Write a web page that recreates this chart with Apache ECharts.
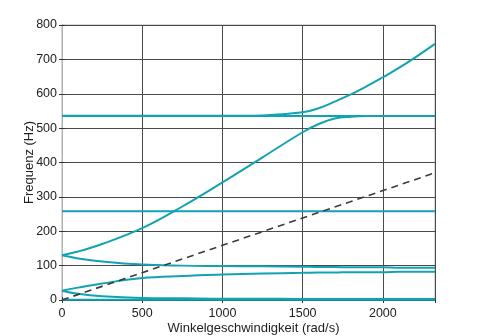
<!DOCTYPE html>
<html>
<head>
<meta charset="utf-8">
<script src="https://cdn.jsdelivr.net/npm/echarts@6/dist/echarts.min.js"></script>
<style>
  html, body { margin: 0; padding: 0; background: #fff; }
  #chart { width: 480px; height: 336px; }
</style>
</head>
<body>
<div id="chart"></div>
<script>
// Campbell diagram: natural frequencies against angular speed
const omega = [0, 100, 250, 500, 750, 1000, 1250, 1500, 1600, 1700, 1800, 1900, 2000, 2100, 2200, 2325];

const modeUpper   = [536, 536, 536, 536, 536, 536, 537, 546, 558, 577, 598, 622, 648, 675, 705, 745];
const modeFlat535 = [535, 535, 535, 535, 535, 535, 535, 535, 535, 535, 535, 535, 535, 535, 535, 535];
const modeRising  = [130, 141, 163, 209, 272, 342, 415, 488, 512, 528, 533, 535, 535, 535, 535, 535];
const modeFlat258 = [258, 258, 258, 258, 258, 258, 258, 258, 258, 258, 258, 258, 258, 258, 258, 258];
const modeFalling = [130, 121, 112, 103, 100, 99, 98, 97, 96, 96, 95, 95, 95, 94, 94, 94];
const modeLowRise = [27, 36, 48, 64, 70, 74, 77, 79, 80, 80, 81, 81, 81, 82, 82, 82];
const modeLowFall = [27, 18, 11, 6, 5, 4, 4, 3, 3, 3, 3, 3, 3, 3, 3, 3];
const modeZero    = [1, 1, 1, 1, 1, 1, 1, 1, 1, 1, 1, 1, 1, 1, 1, 1];

// excitation line (once per revolution)
const excOmega = [0, 2325];
const excFreq  = [0, 370];

const xTicks = [0, 500, 1000, 1500, 2000];
const yTicks = [0, 100, 200, 300, 400, 500, 600, 700, 800];

const teal = '#12a3b2';
const font = 'Liberation Sans, Arial, Helvetica, sans-serif';

function pairs(xs, ys) { return xs.map((x, i) => [x, ys[i]]); }

const modes = [modeUpper, modeFlat535, modeRising, modeFlat258, modeFalling, modeLowRise, modeLowFall, modeZero];

const series = modes.map(m => ({
  type: 'line',
  data: pairs(omega, m),
  smooth: 0.4,
  showSymbol: false,
  lineStyle: { color: teal, width: 2 },
  z: 3
}));

series.push({
  type: 'line',
  data: pairs(excOmega, excFreq),
  showSymbol: false,
  lineStyle: { color: '#3c3c3c', width: 1.6, type: [7, 5] },
  z: 4
});

const chart = echarts.init(document.getElementById('chart'), null, { renderer: 'canvas' });
chart.setOption({
  animation: false,
  backgroundColor: '#fff',
  grid: {
    left: 62, right: 45, top: 25, bottom: 36,
    outerBoundsMode: 'none', containLabel: false,
    show: true, borderColor: '#b0b0b0', borderWidth: 1
  },
  xAxis: [{
    type: 'value',
    min: 0, max: 2325, interval: 500,
    name: 'Winkelgeschwindigkeit (rad/s)',
    nameLocation: 'middle',
    nameGap: 21.5,
    nameMoveOverlap: false,
    nameTextStyle: { fontFamily: font, fontSize: 13, color: '#222', padding: [0, 0, 0, 10], verticalAlign: 'top' },
    axisLine: { show: true, lineStyle: { color: '#333', width: 1 } },
    axisTick: { show: true, inside: true, length: 3, lineStyle: { color: '#333' } },
    axisLabel: {
      fontFamily: font, fontSize: 12.5, color: '#222', margin: 7,
      showMaxLabel: false,
      formatter: v => (xTicks.includes(v) ? String(v) : '')
    },
    splitLine: { show: true, lineStyle: { color: '#4a4a4a', width: 1 } }
  }, {
    type: 'value', position: 'top',
    min: 0, max: 2325, interval: 500,
    axisLine: { show: true, lineStyle: { color: '#333', width: 1 } },
    axisTick: { show: true, inside: true, length: 3, lineStyle: { color: '#333' } },
    axisLabel: { show: false },
    splitLine: { show: false }
  }],
  yAxis: [{
    type: 'value',
    min: 0, max: 800, interval: 100,
    name: 'Frequenz (Hz)',
    nameLocation: 'middle',
    nameGap: 26,
    nameMoveOverlap: false,
    nameTextStyle: { fontFamily: font, fontSize: 13, color: '#222' },
    axisLine: { show: true, lineStyle: { color: '#333', width: 1 } },
    axisTick: { show: true, inside: true, length: 3, lineStyle: { color: '#333' } },
    axisLabel: {
      fontFamily: font, fontSize: 12.5, color: '#222', margin: 5,
      formatter: v => (yTicks.includes(v) ? String(v) : '')
    },
    splitLine: { show: true, lineStyle: { color: '#4a4a4a', width: 1 } }
  }, {
    type: 'value', position: 'right',
    min: 0, max: 800, interval: 100,
    axisLine: { show: true, lineStyle: { color: '#b0b0b0', width: 1 } },
    axisTick: { show: true, inside: true, length: 3, lineStyle: { color: '#333' } },
    axisLabel: { show: false },
    splitLine: { show: false }
  }],
  series: series
});
</script>
</body>
</html>
